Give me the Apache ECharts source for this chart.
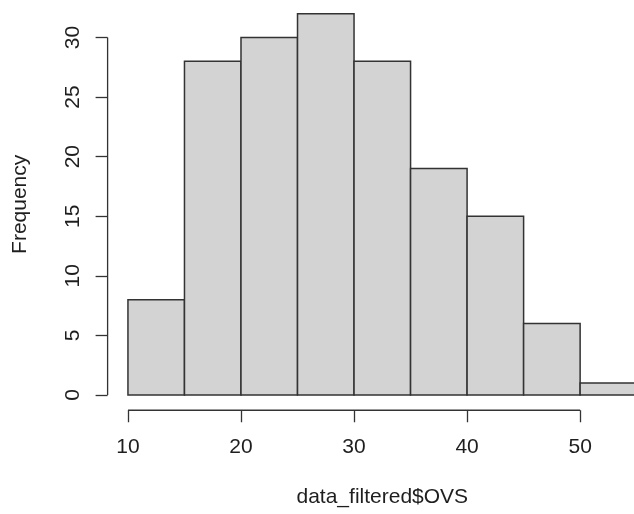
<!DOCTYPE html>
<html>
<head>
<meta charset="utf-8">
<script src="https://cdn.jsdelivr.net/npm/echarts@6/dist/echarts.min.js"></script>
<style>
  html, body { margin: 0; padding: 0; background: #fff; }
  #chart { width: 634px; height: 514px; }
</style>
</head>
<body>
<div id="chart"></div>
<script>
// Histogram bins (left edges, bin width 5) and their counts
const binStarts = [10, 15, 20, 25, 30, 35, 40, 45, 50];
const binWidth = 5;
const counts = [8, 28, 30, 32, 28, 19, 15, 6, 1];

// Axis tick positions
const xTicks = [10, 20, 30, 40, 50];
const yTicks = [0, 5, 10, 15, 20, 25, 30];

// Plot-region limits: data range padded by 4% on each side
const xMin = 8.2, xMax = 56.8;
const yMin = -1.28, yMax = 33.28;

const FONT = '"Liberation Sans", Arial, Helvetica, sans-serif';
const INK = '#1e1e1e';
const EDGE = '#333';
const FS = 21;

const chart = echarts.init(document.getElementById('chart'), null, { renderer: 'canvas' });

const bars = binStarts.map((s, i) => [s, s + binWidth, counts[i]]);

chart.setOption({
  backgroundColor: '#fff',
  animation: false,
  grid: { left: 107.6, width: 549.4, top: -1.6, height: 411.85,
          containLabel: false, outerBoundsMode: 'none' },
  xAxis: {
    type: 'value', min: xMin, max: xMax,
    name: 'data_filtered$OVS', nameLocation: 'middle', nameGap: 76.5,
    nameTextStyle: { fontFamily: FONT, fontSize: FS, color: INK },
    axisLine: { show: false, onZero: false },
    splitLine: { show: false },
    axisTick: { show: true, customValues: xTicks, length: 12, inside: false,
      lineStyle: { color: EDGE, width: 1.3 } },
    axisLabel: { customValues: xTicks, margin: 26.5, fontFamily: FONT, fontSize: FS, color: INK }
  },
  yAxis: {
    type: 'value', min: yMin, max: yMax,
    name: 'Frequency', nameLocation: 'middle', nameGap: 77,
    nameTextStyle: { fontFamily: FONT, fontSize: FS, color: INK },
    axisLine: { show: false, onZero: false },
    splitLine: { show: false },
    axisTick: { show: true, customValues: yTicks, length: 12, inside: false,
      lineStyle: { color: EDGE, width: 1.3 } },
    axisLabel: { customValues: yTicks, rotate: 90, margin: 24, fontFamily: FONT, fontSize: FS, color: INK }
  },
  series: [
    {
      // histogram bars
      type: 'custom',
      clip: false,
      data: bars,
      encode: { x: [0, 1], y: 2 },
      renderItem: function (params, api) {
        const p0 = api.coord([api.value(0), 0]);
        const p1 = api.coord([api.value(1), api.value(2)]);
        return {
          type: 'rect',
          shape: { x: p0[0], y: p1[1], width: p1[0] - p0[0], height: p0[1] - p1[1] },
          style: { fill: '#d3d3d3', stroke: EDGE, lineWidth: 1.5 }
        };
      }
    },
    {
      // axis spines spanning first to last tick
      type: 'custom',
      clip: false,
      data: [[0]],
      renderItem: function (params, api) {
        const xa = api.coord([xTicks[0], yMin]);
        const xb = api.coord([xTicks[xTicks.length - 1], yMin]);
        const ya = api.coord([xMin, yTicks[0]]);
        const yb = api.coord([xMin, yTicks[yTicks.length - 1]]);
        return {
          type: 'group',
          children: [
            { type: 'line', shape: { x1: xa[0], y1: xa[1], x2: xb[0], y2: xb[1] },
              style: { stroke: EDGE, lineWidth: 1.3 } },
            { type: 'line', shape: { x1: ya[0], y1: ya[1], x2: yb[0], y2: yb[1] },
              style: { stroke: EDGE, lineWidth: 1.3 } }
          ]
        };
      }
    }
  ]
});
</script>
</body>
</html>
